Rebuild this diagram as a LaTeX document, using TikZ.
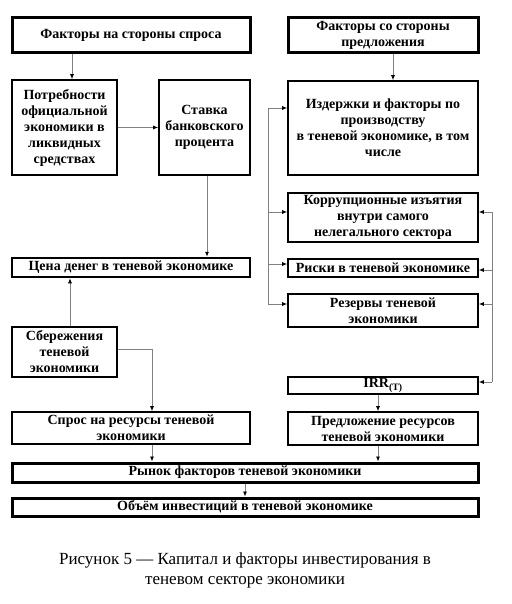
\documentclass[tikz,border=0pt]{standalone}
\usepackage{fontspec}
\setmainfont{Liberation Serif}
\usetikzlibrary{arrows.meta}

\begin{document}
\begin{tikzpicture}[x=1pt, y=-1pt,
    box/.style={draw, line width=1.6pt, align=center, inner sep=0pt, font=\bfseries\fontsize{14}{16}\selectfont},
    bigbox/.style={box, line width=3pt},
    arr/.style={draw=gray, line width=0.8pt, -{Latex[length=5pt, width=4pt, color=black]}},
    bus/.style={draw=gray, line width=0.8pt}]
    \useasboundingbox (0,0) rectangle (511,604);

    % left column
    \node[bigbox, minimum width=238pt, minimum height=35pt] (demand) at (131,35.5) {Факторы на стороны спроса};
    \node[box, minimum width=105pt, minimum height=95pt] (potr) at (64.5,127.5) {Потребности\\официальной\\экономики в\\ликвидных\\средствах};
    \node[box, minimum width=91pt, minimum height=95pt] (stavka) at (204.5,127.5) {Ставка\\банковского\\процента};
    \node[box, line width=2.5pt, minimum width=238pt, minimum height=19pt] (price) at (131,267.5) {Цена денег в теневой экономике};
    \node[box, minimum width=105pt, minimum height=50pt] (savings) at (64.5,352) {Сбережения\\теневой\\экономики};
    \node[box, minimum width=238pt, minimum height=32pt] (dres) at (131,428) {Спрос на ресурсы теневой\\экономики};

    % right column
    \node[bigbox, minimum width=190pt, minimum height=35pt] (supply) at (383,35.5) {Факторы со стороны\\предложения};
    \node[box, minimum width=190pt, minimum height=94pt] (costs) at (383,128) {Издержки и факторы по\\производству\\в теневой экономике, в том\\числе};
    \node[box, minimum width=190pt, minimum height=49pt] (corrupt) at (383,217.5) {Коррупционные изъятия\\внутри самого\\нелегального сектора};
    \node[box, minimum width=190pt, minimum height=18pt] (risks) at (383,268) {Риски в теневой экономике};
    \node[box, minimum width=190pt, minimum height=33pt] (reserves) at (383,310.5) {Резервы теневой\\экономики};
    \node[box, minimum width=190pt, minimum height=17pt] (irr) at (383,385.5) {IRR\textsubscript{(T)}};
    \node[box, minimum width=190pt, minimum height=33pt] (sres) at (383,428.5) {Предложение ресурсов\\теневой экономики};

    % bottom
    \node[bigbox, minimum width=466pt, minimum height=19pt] (market) at (245,472.5) {Рынок факторов теневой экономики};
    \node[bigbox, minimum width=466pt, minimum height=18pt] (invest) at (245,507) {Объём инвестиций в теневой экономике};
    \node[align=center, font=\fontsize{17}{20}\selectfont] (caption) at (245,570) {Рисунок 5 — Капитал и факторы инвестирования в\\теневом секторе экономики};

    \coordinate (c1) at (72,0); \coordinate (c2) at (207,0); \coordinate (c3) at (70,0); \coordinate (c4) at (152,0);
    \coordinate (c5) at (393,0); \coordinate (c6) at (378,0); \coordinate (lb) at (268,0); \coordinate (rb) at (492,0);

    \draw[arr] (c1 |- demand.south) -- (c1 |- potr.north);
    \draw[arr] (potr.east) -- (stavka.west);
    \draw[arr] (c2 |- stavka.south) -- (c2 |- price.north);
    \draw[arr] (c3 |- savings.north) -- (c3 |- price.south);
    \draw[arr] ([yshift=3pt]savings.east) -| (c4 |- dres.north);
    \draw[arr] (c4 |- dres.south) -- (c4 |- market.north);
    \draw[arr] (c5 |- supply.south) -- (c5 |- costs.north);
    \draw[arr] (c6 |- irr.south) -- (c6 |- sres.north);
    \draw[arr] (c6 |- sres.south) -- (c6 |- market.north);
    \draw[arr] (market.south) -- (invest.north);

    \draw[bus] ([yshift=20pt]lb |- costs.west) -- ([yshift=6.5pt]lb |- reserves.west);
    \foreach \n/\dy in {costs/20, corrupt/5.5, risks/4, reserves/6.5}
        \draw[arr] ([yshift=\dy pt]lb |- \n.west) -- ([yshift=\dy pt]\n.west);
    \draw[bus] ([yshift=5.5pt]rb |- corrupt.east) -- ([yshift=3.5pt]rb |- irr.east);
    \foreach \n/\dy in {corrupt/5.5, risks/-2, reserves/6.5, irr/3.5}
        \draw[arr] ([yshift=\dy pt]rb |- \n.east) -- ([yshift=\dy pt]\n.east);
\end{tikzpicture}
\end{document}
